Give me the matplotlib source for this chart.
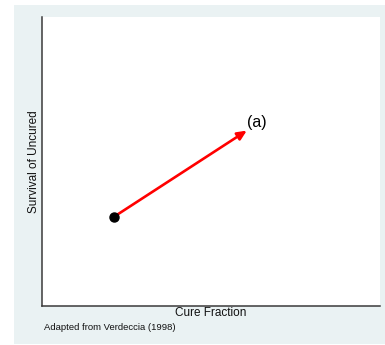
import matplotlib
matplotlib.use("Agg")
import matplotlib.pyplot as plt
from matplotlib.patches import Rectangle

plt.rcParams['font.family'] = ['Liberation Sans', 'DejaVu Sans']

# Data
start_x = [0.212]
start_y = [0.308]
end_x = [0.606]
end_y = [0.607]
point_label = "(a)"
x_title = "Cure Fraction"
y_title = "Survival of Uncured"
note = "Adapted from Verdeccia (1998)"

W, H = 385, 345
fig = plt.figure(figsize=(W / 100, H / 100), dpi=100)
fig.patch.set_facecolor("white")
bg = "#EAF2F3"
fig.patches.append(Rectangle((14 / W, 1 / H), (W - 14) / W, (340 - 1) / H,
                             transform=fig.transFigure, facecolor=bg,
                             edgecolor="none", zorder=-10))

ax = fig.add_axes([42 / W, (H - 306) / H, (380 - 42) / W, (306 - 17) / H])
ax.set_zorder(1)
ax.set_facecolor("white")
ax.set_xlim(0, 1)
ax.set_ylim(0, 1)
for s in ["top", "right"]:
    ax.spines[s].set_visible(False)
for s in ["left", "bottom"]:
    ax.spines[s].set_color("#3a3a3a")
    ax.spines[s].set_linewidth(1.1)
ax.set_xticks([])
ax.set_yticks([])

ax.annotate("", xy=(end_x[0], end_y[0]), xytext=(start_x[0], start_y[0]),
            arrowprops=dict(arrowstyle="-|>,head_length=0.55,head_width=0.25",
                            color="#ff0000", lw=1.9, shrinkA=0, shrinkB=0),
            zorder=3)
ax.plot(start_x, start_y, "o", color="black", markersize=6.5, zorder=4)
ax.text(end_x[0], end_y[0] + 0.003, point_label, fontsize=11.5,
        ha="left", va="bottom", color="black")

ax.set_xlabel(x_title, fontsize=8.5, labelpad=1, color="#111111")
ax.set_ylabel(y_title, fontsize=8.5, labelpad=1.5, color="#111111")

fig.text(44 / W, 1 - 328 / H, note, fontsize=6.8, ha="left", va="center",
         color="#111111")

fig.savefig("out.png", dpi=100, facecolor=fig.get_facecolor())
